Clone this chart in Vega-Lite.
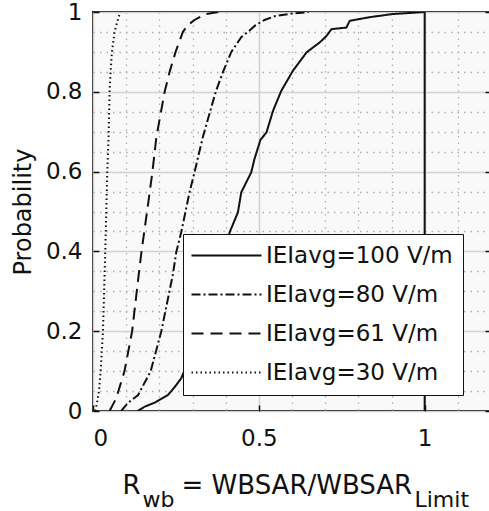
{
  "$schema": "https://vega.github.io/schema/vega-lite/v6.json",
  "width": 398,
  "height": 399,
  "autosize": {"type": "none"},
  "padding": {"left": 93, "top": 12, "right": 0, "bottom": 100},
  "config": {
    "font": "DejaVu Sans",
    "view": {"fill": "#f9f9f9", "stroke": "#111", "strokeWidth": 2},
    "axis": {"titleFontWeight": "normal", "titleColor": "#111", "labelColor": "#111"},
    "legend": {
      "orient": "none", "legendX": 90, "legendY": 222,
      "title": null,
      "symbolType": "M-3.5,0H3.5", "symbolSize": 400, "symbolStrokeWidth": 2,
      "symbolStrokeColor": "#111", "symbolOffset": 22,
      "labelFontSize": 23, "labelColor": "#111", "labelOffset": 28, "labelLimit": 400,
      "padding": 10, "rowPadding": 15,
      "strokeColor": "#111", "fillColor": "white"
    }
  },
  "data": {
    "values": [
      {"s": "IEIavg=30 V/m", "x": 0.007, "p": 0},
      {"s": "IEIavg=30 V/m", "x": 0.013, "p": 0.025},
      {"s": "IEIavg=30 V/m", "x": 0.018, "p": 0.05},
      {"s": "IEIavg=30 V/m", "x": 0.023, "p": 0.1},
      {"s": "IEIavg=30 V/m", "x": 0.030, "p": 0.2},
      {"s": "IEIavg=30 V/m", "x": 0.037, "p": 0.4},
      {"s": "IEIavg=30 V/m", "x": 0.043, "p": 0.6},
      {"s": "IEIavg=30 V/m", "x": 0.047, "p": 0.686},
      {"s": "IEIavg=30 V/m", "x": 0.050, "p": 0.8},
      {"s": "IEIavg=30 V/m", "x": 0.053, "p": 0.85},
      {"s": "IEIavg=30 V/m", "x": 0.057, "p": 0.9},
      {"s": "IEIavg=30 V/m", "x": 0.065, "p": 0.95},
      {"s": "IEIavg=30 V/m", "x": 0.073, "p": 0.975},
      {"s": "IEIavg=30 V/m", "x": 0.082, "p": 1.0},

      {"s": "IEIavg=61 V/m", "x": 0.050, "p": 0},
      {"s": "IEIavg=61 V/m", "x": 0.070, "p": 0.032},
      {"s": "IEIavg=61 V/m", "x": 0.095, "p": 0.1},
      {"s": "IEIavg=61 V/m", "x": 0.118, "p": 0.2},
      {"s": "IEIavg=61 V/m", "x": 0.138, "p": 0.343},
      {"s": "IEIavg=61 V/m", "x": 0.146, "p": 0.398},
      {"s": "IEIavg=61 V/m", "x": 0.163, "p": 0.5},
      {"s": "IEIavg=61 V/m", "x": 0.179, "p": 0.598},
      {"s": "IEIavg=61 V/m", "x": 0.191, "p": 0.686},
      {"s": "IEIavg=61 V/m", "x": 0.216, "p": 0.8},
      {"s": "IEIavg=61 V/m", "x": 0.231, "p": 0.85},
      {"s": "IEIavg=61 V/m", "x": 0.249, "p": 0.9},
      {"s": "IEIavg=61 V/m", "x": 0.271, "p": 0.95},
      {"s": "IEIavg=61 V/m", "x": 0.286, "p": 0.967},
      {"s": "IEIavg=61 V/m", "x": 0.306, "p": 0.98},
      {"s": "IEIavg=61 V/m", "x": 0.340, "p": 0.995},
      {"s": "IEIavg=61 V/m", "x": 0.380, "p": 1.0},

      {"s": "IEIavg=80 V/m", "x": 0.085, "p": 0},
      {"s": "IEIavg=80 V/m", "x": 0.105, "p": 0.02},
      {"s": "IEIavg=80 V/m", "x": 0.136, "p": 0.04},
      {"s": "IEIavg=80 V/m", "x": 0.174, "p": 0.1},
      {"s": "IEIavg=80 V/m", "x": 0.206, "p": 0.2},
      {"s": "IEIavg=80 V/m", "x": 0.241, "p": 0.343},
      {"s": "IEIavg=80 V/m", "x": 0.251, "p": 0.398},
      {"s": "IEIavg=80 V/m", "x": 0.266, "p": 0.448},
      {"s": "IEIavg=80 V/m", "x": 0.291, "p": 0.548},
      {"s": "IEIavg=80 V/m", "x": 0.306, "p": 0.598},
      {"s": "IEIavg=80 V/m", "x": 0.331, "p": 0.686},
      {"s": "IEIavg=80 V/m", "x": 0.370, "p": 0.8},
      {"s": "IEIavg=80 V/m", "x": 0.392, "p": 0.85},
      {"s": "IEIavg=80 V/m", "x": 0.417, "p": 0.9},
      {"s": "IEIavg=80 V/m", "x": 0.447, "p": 0.937},
      {"s": "IEIavg=80 V/m", "x": 0.467, "p": 0.95},
      {"s": "IEIavg=80 V/m", "x": 0.490, "p": 0.967},
      {"s": "IEIavg=80 V/m", "x": 0.517, "p": 0.98},
      {"s": "IEIavg=80 V/m", "x": 0.550, "p": 0.99},
      {"s": "IEIavg=80 V/m", "x": 0.600, "p": 0.996},
      {"s": "IEIavg=80 V/m", "x": 0.650, "p": 1.0},

      {"s": "IEIavg=100 V/m", "x": 0.135, "p": 0},
      {"s": "IEIavg=100 V/m", "x": 0.156, "p": 0.011},
      {"s": "IEIavg=100 V/m", "x": 0.186, "p": 0.021},
      {"s": "IEIavg=100 V/m", "x": 0.226, "p": 0.04},
      {"s": "IEIavg=100 V/m", "x": 0.251, "p": 0.065},
      {"s": "IEIavg=100 V/m", "x": 0.266, "p": 0.082},
      {"s": "IEIavg=100 V/m", "x": 0.300, "p": 0.15},
      {"s": "IEIavg=100 V/m", "x": 0.350, "p": 0.26},
      {"s": "IEIavg=100 V/m", "x": 0.390, "p": 0.37},
      {"s": "IEIavg=100 V/m", "x": 0.412, "p": 0.448},
      {"s": "IEIavg=100 V/m", "x": 0.437, "p": 0.498},
      {"s": "IEIavg=100 V/m", "x": 0.447, "p": 0.548},
      {"s": "IEIavg=100 V/m", "x": 0.477, "p": 0.598},
      {"s": "IEIavg=100 V/m", "x": 0.487, "p": 0.632},
      {"s": "IEIavg=100 V/m", "x": 0.505, "p": 0.68},
      {"s": "IEIavg=100 V/m", "x": 0.523, "p": 0.698},
      {"s": "IEIavg=100 V/m", "x": 0.543, "p": 0.753},
      {"s": "IEIavg=100 V/m", "x": 0.568, "p": 0.803},
      {"s": "IEIavg=100 V/m", "x": 0.603, "p": 0.853},
      {"s": "IEIavg=100 V/m", "x": 0.644, "p": 0.899},
      {"s": "IEIavg=100 V/m", "x": 0.684, "p": 0.924},
      {"s": "IEIavg=100 V/m", "x": 0.704, "p": 0.94},
      {"s": "IEIavg=100 V/m", "x": 0.719, "p": 0.957},
      {"s": "IEIavg=100 V/m", "x": 0.764, "p": 0.961},
      {"s": "IEIavg=100 V/m", "x": 0.774, "p": 0.978},
      {"s": "IEIavg=100 V/m", "x": 0.834, "p": 0.987},
      {"s": "IEIavg=100 V/m", "x": 0.905, "p": 0.995},
      {"s": "IEIavg=100 V/m", "x": 0.964, "p": 0.998},
      {"s": "IEIavg=100 V/m", "x": 1.0, "p": 1.0}
    ]
  },
  "layer": [
    {
      "transform": [{"filter": "datum.s === 'IEIavg=100 V/m'"}],
      "mark": {"type": "line", "strokeWidth": 2, "color": "#111", "clip": true},
      "encoding": {
        "x": {
          "field": "x", "type": "quantitative",
          "scale": {"domain": [0, 1.2], "nice": false, "zero": false},
          "axis": {
            "values": [0, 0.1, 0.2, 0.3, 0.4, 0.5, 0.6, 0.7, 0.8, 0.9, 1, 1.1],
            "format": "~g",
            "labelExpr": "indexof([0, 0.5, 1], datum.value) >= 0 ? datum.label : ''",
            "grid": true,
            "gridColor": {"condition": {"test": "indexof([0, 0.5, 1], datum.value) >= 0", "value": "#d2d2d2"}, "value": "#b0b0b0"},
            "gridDash": {"condition": {"test": "indexof([0, 0.5, 1], datum.value) >= 0", "value": []}, "value": [1.5, 5]},
            "gridWidth": {"condition": {"test": "indexof([0, 0.5, 1], datum.value) >= 0", "value": 1.6}, "value": 1.3},
            "domain": false,
            "tickSize": -6, "tickColor": "#111", "tickWidth": 1.5,
            "tickOpacity": {"condition": {"test": "indexof([0, 0.5, 1], datum.value) >= 0", "value": 1}, "value": 0},
            "labelFontSize": 23, "labelPadding": 22,
            "title": "R",
            "titleFontSize": 26, "titleX": 29, "titleY": 82,
            "titleAlign": "left", "titleAnchor": "start", "titleBaseline": "alphabetic"
          }
        },
        "y": {
          "field": "p", "type": "quantitative",
          "scale": {"domain": [0, 1], "nice": false},
          "axis": {
            "values": [0, 0.05, 0.1, 0.15, 0.2, 0.25, 0.3, 0.35, 0.4, 0.45, 0.5, 0.55, 0.6, 0.65, 0.7, 0.75, 0.8, 0.85, 0.9, 0.95, 1],
            "format": "~g",
            "labelExpr": "indexof([0, 0.2, 0.4, 0.6, 0.8, 1], datum.value) >= 0 ? datum.label : ''",
            "grid": true,
            "gridColor": {"condition": {"test": "indexof([0, 0.2, 0.4, 0.6, 0.8, 1], datum.value) >= 0", "value": "#d2d2d2"}, "value": "#b0b0b0"},
            "gridDash": {"condition": {"test": "indexof([0, 0.2, 0.4, 0.6, 0.8, 1], datum.value) >= 0", "value": []}, "value": [1.5, 5]},
            "gridWidth": {"condition": {"test": "indexof([0, 0.2, 0.4, 0.6, 0.8, 1], datum.value) >= 0", "value": 1.6}, "value": 1.3},
            "domain": false,
            "tickSize": -6, "tickColor": "#111", "tickWidth": 1.5,
            "tickOpacity": {"condition": {"test": "indexof([0, 0.2, 0.4, 0.6, 0.8, 1], datum.value) >= 0", "value": 1}, "value": 0},
            "labelFontSize": 23, "labelPadding": 17,
            "title": "Probability", "titleFontSize": 24, "titlePadding": 10
          }
        },
        "strokeDash": {
          "field": "s", "type": "nominal",
          "scale": {
            "domain": ["IEIavg=100 V/m", "IEIavg=80 V/m", "IEIavg=61 V/m", "IEIavg=30 V/m"],
            "range": [[1, 0], [9, 3, 2, 3], [12, 7], [1.5, 3]]
          }
        }
      }
    },
    {
      "transform": [{"filter": "datum.s === 'IEIavg=80 V/m'"}],
      "mark": {"type": "line", "strokeWidth": 2, "color": "#111", "clip": true},
      "encoding": {
        "x": {
          "field": "x", "type": "quantitative",
          "axis": {
            "orient": "bottom", "grid": false, "ticks": false, "labels": false, "domain": false,
            "title": "= WBSAR/WBSAR", "titleFontSize": 26, "titleX": 88, "titleY": 82,
            "titleAlign": "left", "titleAnchor": "start", "titleBaseline": "alphabetic"
          }
        },
        "y": {"field": "p", "type": "quantitative", "axis": null},
        "strokeDash": {
          "field": "s", "type": "nominal",
          "scale": {
            "domain": ["IEIavg=100 V/m", "IEIavg=80 V/m", "IEIavg=61 V/m", "IEIavg=30 V/m"],
            "range": [[1, 0], [9, 3, 2, 3], [12, 7], [1.5, 3]]
          }
        }
      }
    },
    {
      "transform": [{"filter": "datum.s === 'IEIavg=61 V/m' || datum.s === 'IEIavg=30 V/m'"}],
      "mark": {"type": "line", "strokeWidth": 2, "color": "#111", "clip": true},
      "encoding": {
        "x": {
          "field": "x", "type": "quantitative",
          "axis": {
            "orient": "bottom", "grid": false, "ticks": false, "labels": false, "domain": false,
            "title": "wb", "titleFontSize": 22, "titleX": 49, "titleY": 95,
            "titleAlign": "left", "titleAnchor": "start", "titleBaseline": "alphabetic"
          }
        },
        "y": {"field": "p", "type": "quantitative", "axis": null},
        "strokeDash": {
          "field": "s", "type": "nominal",
          "scale": {
            "domain": ["IEIavg=100 V/m", "IEIavg=80 V/m", "IEIavg=61 V/m", "IEIavg=30 V/m"],
            "range": [[1, 0], [9, 3, 2, 3], [12, 7], [1.5, 3]]
          }
        }
      }
    },
    {
      "data": {"values": [{"x": 1, "p0": 0, "p1": 1}]},
      "mark": {"type": "rule", "strokeWidth": 2, "color": "#111"},
      "encoding": {
        "x": {
          "field": "x", "type": "quantitative",
          "axis": {
            "orient": "bottom", "grid": false, "ticks": false, "labels": false, "domain": false,
            "title": "Limit", "titleFontSize": 22, "titleX": 321, "titleY": 95,
            "titleAlign": "left", "titleAnchor": "start", "titleBaseline": "alphabetic"
          }
        },
        "y": {
          "field": "p0", "type": "quantitative",
          "axis": {
            "orient": "right", "values": [0, 0.2, 0.4, 0.6, 0.8, 1],
            "grid": false, "labels": false, "domain": false, "title": null,
            "tickSize": -6, "tickColor": "#111", "tickWidth": 1.5
          }
        },
        "y2": {"field": "p1"}
      }
    }
  ],
  "resolve": {"axis": {"x": "independent", "y": "independent"}}
}
